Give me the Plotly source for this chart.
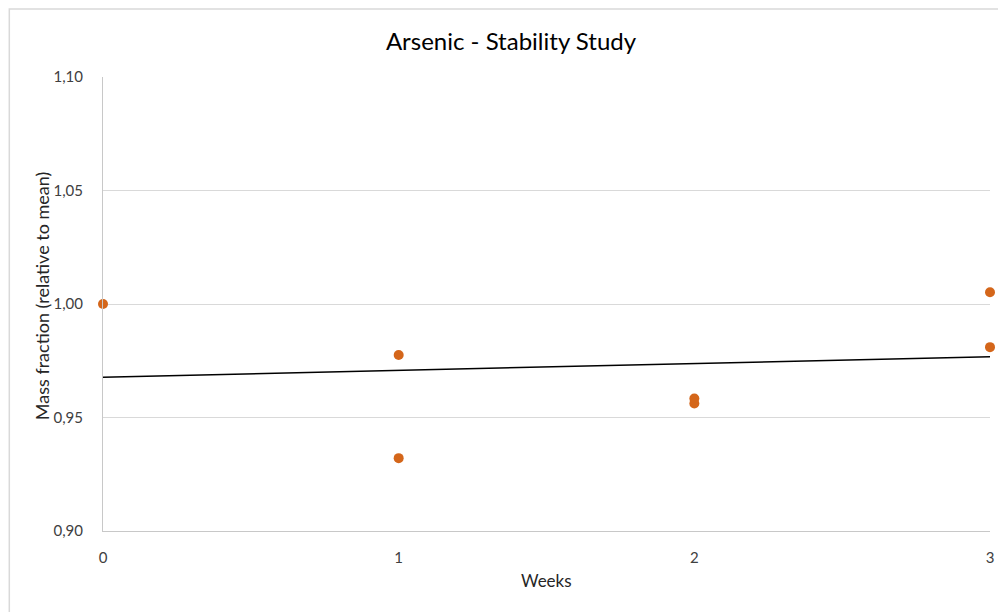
import numpy as np
import plotly.graph_objects as go

weeks = [0, 1, 1, 2, 2, 3, 3]
mass_fraction = [1.000, 0.9775, 0.9321, 0.9584, 0.9562, 1.0052, 0.981]
x_ticks = [0, 1, 2, 3]
y_ticks = [0.90, 0.95, 1.00, 1.05, 1.10]

slope, intercept = np.polyfit(weeks, mass_fraction, 1)
trend_x = [min(weeks), max(weeks)]
trend_y = [intercept + slope * v for v in trend_x]

OFF = 8  # page body margin
W, H = 1006 - OFF, 612 - OFF
L, T = 103 - OFF, 77 - OFF
R = W - (993 - OFF)
B = H - (531 - OFF)
pw, ph = W - L - R, H - T - B

def px(x):
    return (x - OFF - L) / pw

def py(y):
    return (H - B - (y - OFF)) / ph

font = "Lato, 'Open Sans', sans-serif"

fig = go.Figure()
fig.add_trace(go.Scatter(x=trend_x, y=trend_y, mode="lines",
                         line=dict(color="black", width=1.5),
                         showlegend=False, hoverinfo="skip"))
fig.add_trace(go.Scatter(x=weeks, y=mass_fraction, mode="markers",
                         marker=dict(color="#D4661A", size=10),
                         cliponaxis=False, showlegend=False))

fig.update_layout(
    width=W, height=H,
    margin=dict(l=L, r=R, t=T, b=B),
    paper_bgcolor="white", plot_bgcolor="white",
    separators=", ",
    font=dict(family=font, size=15, color="#404040"),
    title=dict(text="Arsenic - Stability Study", x=(511 - OFF) / W, xanchor="center",
               y=1 - (42 - OFF) / H, yanchor="middle",
               font=dict(family=font, size=24, color="#000000")),
    xaxis=dict(range=[0, 3], tickvals=x_ticks, showgrid=False,
               showline=True, linecolor="#C8C8C8", linewidth=1,
               zeroline=False, ticks="", ticklabelstandoff=13,
               tickfont=dict(color="#404040", size=15)),
    yaxis=dict(range=[0.90, 1.10], tickvals=y_ticks, tickformat=".2f",
               showgrid=True, gridcolor="#D9D9D9", gridwidth=1,
               showline=True, linecolor="#C8C8C8", linewidth=1,
               zeroline=False, ticks="", ticklabelstandoff=16,
               tickfont=dict(color="#404040", size=15)),
    annotations=[
        dict(text="Mass fraction (relative to mean)", xref="paper", yref="paper",
             x=px(42), y=py(296), textangle=-90, showarrow=False,
             xanchor="center", yanchor="middle",
             font=dict(family=font, size=18, color="#262626")),
        dict(text="Weeks", xref="paper", yref="paper",
             x=px(548), y=py(580), showarrow=False,
             xanchor="center", yanchor="middle",
             font=dict(family=font, size=17, color="#262626")),
    ],
    shapes=[
        dict(type="rect", xref="paper", yref="paper",
             x0=-(L - 1) / pw, x1=(W - L + 10) / pw,
             y0=-(B + 10) / ph, y1=(H - B - 1) / ph,
             line=dict(color="#D9D9D9", width=1.5), layer="below"),
    ],
)

fig.write_html("out.html")
